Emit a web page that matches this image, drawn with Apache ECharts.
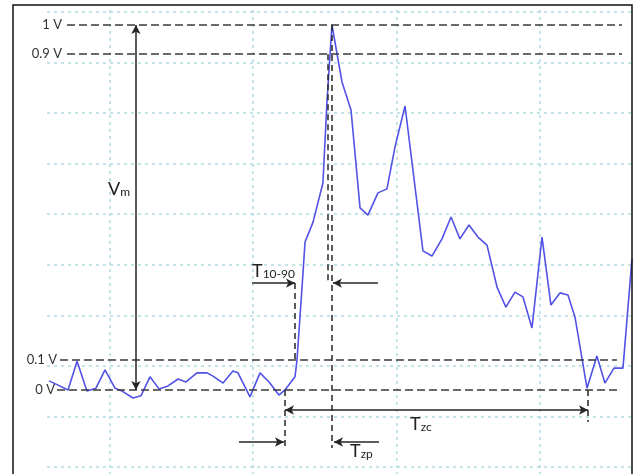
<!DOCTYPE html>
<html><head><meta charset="utf-8">
<script src="https://cdn.jsdelivr.net/npm/echarts@6/dist/echarts.min.js"></script>
<style>html,body{margin:0;padding:0;background:#fff}#c{width:635px;height:474px}</style>
</head><body><div id="c"></div>
<script>
// Signal samples: time (in tenths of a grid division) and voltage (V)
const times = [-4.26,-3.77,-2.93,-2.30,-1.61,-0.98,-0.35,0.35,0.84,1.61,2.16,2.79,3.42,4.05,4.75,5.30,6.07,6.77,7.19,7.89,8.58,8.93,9.77,10.47,11.10,11.79,12.21,12.91,13.05,13.47,13.61,14.17,14.86,15.14,15.49,16.19,16.82,17.45,18.00,18.70,19.33,19.89,20.59,21.84,22.47,23.17,23.80,24.42,25.05,25.68,26.31,27.01,27.63,28.26,28.82,29.45,30.15,30.77,31.40,31.96,32.45,33.29,33.98,34.54,35.17,35.80,36.43];
const volts = [0.025,0.016,0.000,0.079,-0.003,0.005,0.055,0.005,-0.003,-0.022,-0.016,0.036,0.003,0.011,0.030,0.022,0.047,0.047,0.038,0.019,0.052,0.047,-0.019,0.047,0.022,-0.014,0.000,0.036,0.082,0.321,0.405,0.460,0.567,0.789,1.000,0.844,0.767,0.499,0.479,0.540,0.551,0.666,0.778,0.381,0.367,0.414,0.474,0.414,0.452,0.419,0.397,0.282,0.227,0.268,0.255,0.170,0.419,0.233,0.266,0.260,0.200,0.005,0.093,0.019,0.060,0.060,0.360];
// Reference levels
const levelValues = [1, 0.92, 0.082, 0];
const levelLabels = ['1 V', '0.9 V', '0.1 V', '0 V'];
// Annotation labels
const annoTexts = [['V','m'], ['T','10-90'], ['T','zc'], ['T','zp']];

const FONT = 'Lato, "Open Sans", sans-serif';
const INK = '#262626';

// ---- annotation geometry (layout, not data) ----
const levelStart = [-3.0, -3.0, -3.49, -3.70];
const levelEnd = [35.73, 35.73, 35.38, 35.52];
const levelDist = [5, 5, 3, 2];
const annoPos = [[-0.14, 0.551], [9.91, 0.326], [20.94, -0.093], [16.75, -0.167]];

const mlData = [];
levelValues.forEach((v, i) => {
  mlData.push([
    {coord: [levelStart[i], v], symbol: 'none',
     label: {show: true, position: 'start', formatter: levelLabels[i], distance: levelDist[i],
             color: '#333', fontSize: 13, fontFamily: FONT},
     lineStyle: {type: [8, 4], color: '#3a3a3a', width: 1.5}},
    {coord: [levelEnd[i], v], symbol: 'none'}
  ]);
});
function arrowSeg(a, b, startArrow, endArrow) {
  mlData.push([
    {coord: a, symbol: startArrow ? 'arrow' : 'none', symbolSize: [7, 9],
     lineStyle: {type: 'solid', color: INK, width: 1.5}},
    {coord: b, symbol: endArrow ? 'arrow' : 'none', symbolSize: [7, 9]}
  ]);
}
function dashSeg(a, b) {
  mlData.push([
    {coord: a, symbol: 'none', lineStyle: {type: [6, 4], color: INK, width: 1.5}},
    {coord: b, symbol: 'none'}
  ]);
}
arrowSeg([1.81, 0], [1.81, 1], true, true);              // Vm
arrowSeg([9.91, 0.293], [12.91, 0.293], false, true);     // T10-90 left
arrowSeg([18.70, 0.293], [15.56, 0.293], false, true);    // T10-90 right
arrowSeg([12.21, -0.0548], [33.36, -0.0548], true, true); // Tzc
arrowSeg([9.0, -0.1425], [12.14, -0.1425], false, true);  // Tzp left
arrowSeg([18.77, -0.1425], [15.63, -0.1425], false, true);// Tzp right
dashSeg([12.91, 0.293], [12.91, 0.082]);
dashSeg([15.21, 0.92], [15.21, 0.293]);
dashSeg([15.49, 1.0], [15.49, -0.159]);
dashSeg([12.21, 0], [12.21, -0.156]);
dashSeg([33.36, 0], [33.36, -0.0877]);

const mpData = annoTexts.map((t, i) => ({
  coord: annoPos[i], symbol: 'circle', symbolSize: 0,
  label: {show: true, position: 'right', distance: 0,
          formatter: '{m|' + t[0] + '}{s|' + t[1] + '}',
          rich: {
            m: {fontSize: 18, fontFamily: FONT, color: '#222', lineHeight: 20},
            s: {fontSize: 12, fontFamily: FONT, color: '#222', lineHeight: 12, verticalAlign: 'bottom', padding: [0, 0, 1, 0]}
          }}
}));

const gratLine = {show: true, lineStyle: {color: '#b3dbe4', width: 1.5, type: [3, 4]}};
const hidden = {axisLine: {show: false}, axisTick: {show: false}, axisLabel: {show: false}};

const chart = echarts.init(document.getElementById('c'));
chart.setOption({
  animation: false,
  backgroundColor: '#fff',
  graphic: [{
    type: 'rect', z: 10, silent: true,
    shape: {x: 13, y: 5, width: 619, height: 490},
    style: {fill: 'none', stroke: '#111', lineWidth: 1.5}
  }],
  grid: [
    {left: 13, right: 3, top: 5, bottom: 0},
    {left: 47, right: 3, top: 12, bottom: 7},
    {left: 110, width: 429.6, top: 10, bottom: 0}
  ],
  xAxis: [
    Object.assign({gridIndex: 0, type: 'value', min: -6.77, max: 36.43, splitLine: {show: false}}, hidden),
    Object.assign({gridIndex: 1, type: 'value', min: 0, max: 1, splitLine: {show: false}}, hidden),
    Object.assign({gridIndex: 2, type: 'value', min: 0, max: 3, interval: 1, splitLine: gratLine}, hidden)
  ],
  yAxis: [
    Object.assign({gridIndex: 0, type: 'value', min: -0.2302, max: 1.0548, splitLine: {show: false}}, hidden),
    Object.assign({gridIndex: 1, type: 'value', min: 0, max: 9, interval: 1, splitLine: gratLine}, hidden),
    Object.assign({gridIndex: 2, type: 'value', min: 0, max: 1, splitLine: {show: false}}, hidden)
  ],
  series: [{
    type: 'line',
    xAxisIndex: 0, yAxisIndex: 0,
    data: times.map((t, i) => [t, volts[i]]),
    showSymbol: false, symbol: 'none',
    lineStyle: {color: '#5252e6', width: 1.6},
    z: 3,
    markLine: {silent: true, symbol: ['none', 'none'], label: {show: false}, emphasis: {disabled: true}, data: mlData, z: 4},
    markPoint: {silent: true, data: mpData}
  }]
});
</script>
</body></html>
